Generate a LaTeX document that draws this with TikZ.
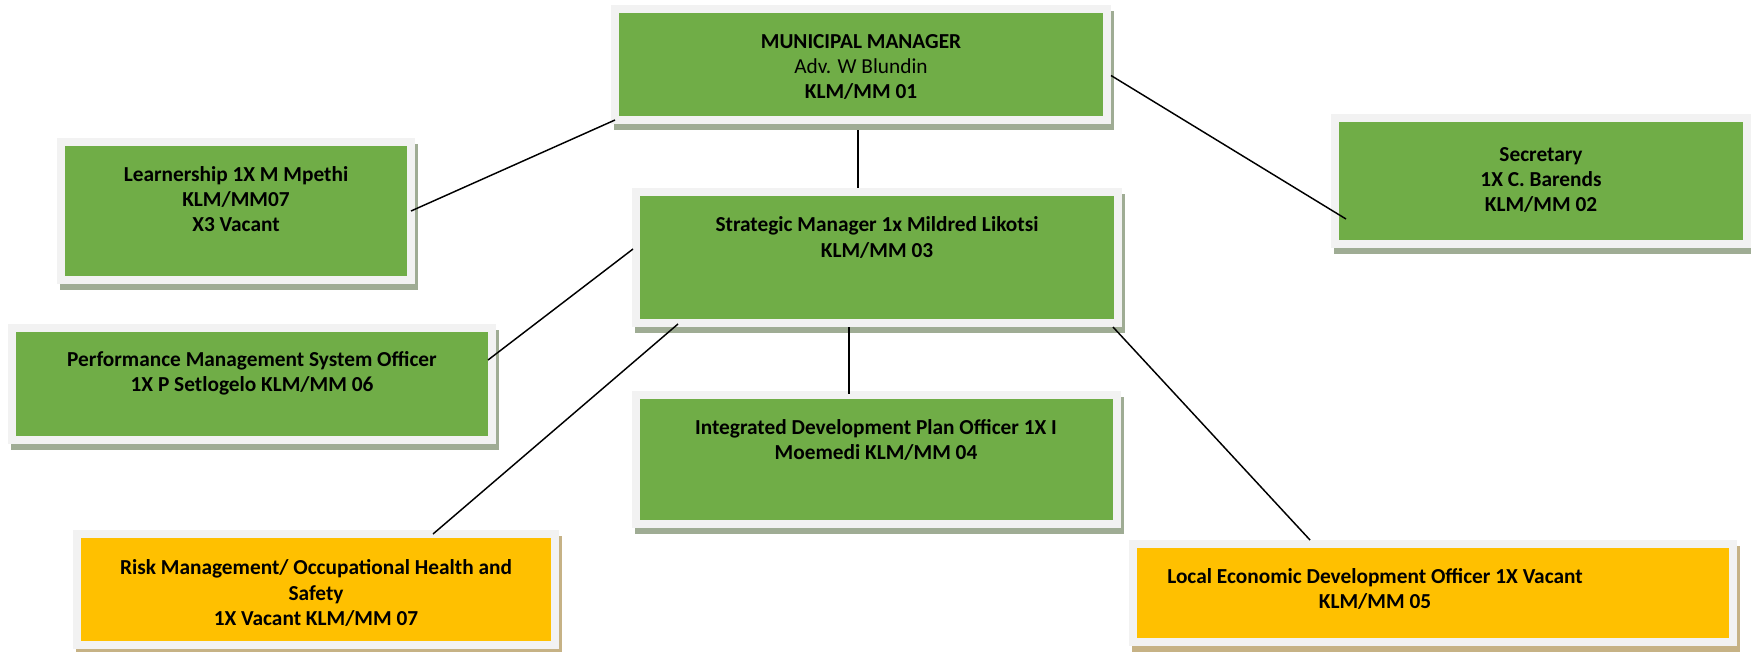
\documentclass[tikz,border=0pt]{standalone}
\usepackage{fontspec}
\setmainfont{Carlito}
\usetikzlibrary{calc}
\definecolor{boxgreen}{HTML}{70AD47}
\definecolor{boxyellow}{HTML}{FFC000}
\definecolor{boxframe}{HTML}{F2F2F2}
\definecolor{shgreen}{HTML}{9FAC94}
\definecolor{shyellow}{HTML}{C6B285}

\tikzset{every picture/.style={line width=0.75pt}}
\tikzset{
  postbox/.style={draw=boxframe, line width=6pt, inner sep=0pt, outer sep=0pt},
  greenbox/.style={postbox, fill=boxgreen},
  yellowbox/.style={postbox, fill=boxyellow},
  posttext/.style={font=\fontsize{16}{19}\selectfont\bfseries, align=center, inner sep=0pt},
  link/.style={draw=black, line width=1.1pt},
}

\begin{document}
\begin{tikzpicture}[x=0.75pt,y=0.75pt,yscale=-1,xscale=1]
    \useasboundingbox (0,0) rectangle (1751,651);
    % Text Node
    \fill[shgreen] (614,11) rectangle (1114,130);
    \node[greenbox, minimum width=369pt, minimum height=83.25pt] (mm) at (861,64.5) {};
    \node[posttext] (mmtext) at (861,67) {MUNICIPAL MANAGER\\{\mdseries Adv. W Blundin}\\KLM/MM 01};
    % Text Node
    \fill[shgreen] (60,144) rectangle (418,290);
    \node[greenbox, minimum width=262.5pt, minimum height=103.5pt] (lrn) at (236,211) {};
    \node[posttext] (lrntext) at (236,199) {Learnership 1X M Mpethi\\KLM/MM07\\X3 Vacant};
    % Text Node
    \fill[shgreen] (1334,120) rectangle (1754,254);
    \node[greenbox, minimum width=309pt, minimum height=94.5pt] (sec) at (1541,181) {};
    \node[posttext] (sectext) at (1541,180) {Secretary\\1X C. Barends\\KLM/MM 02};
    % Text Node
    \fill[shgreen] (635,194) rectangle (1125,333);
    \node[greenbox, minimum width=361.5pt, minimum height=98.25pt] (str) at (877,257.5) {};
    \node[posttext] (strtext) at (877,237.5) {Strategic Manager 1x Mildred Likotsi\\KLM/MM 03};
    % Text Node
    \fill[shgreen] (11,330) rectangle (499,450);
    \node[greenbox, minimum width=360pt, minimum height=84pt] (pms) at (252,384) {};
    \node[posttext] (pmstext) at (252,373.5) {Performance Management System Officer\\1X P Setlogelo KLM/MM 06};
    % Text Node
    \fill[shgreen] (635,397) rectangle (1124,534);
    \node[greenbox, minimum width=360.75pt, minimum height=96.75pt] (idp) at (876.5,459.5) {};
    \node[posttext] (idptext) at (876,440) {Integrated Development Plan Officer 1X I\\Moemedi KLM/MM 04};
    % Text Node
    \fill[shyellow] (76,536) rectangle (562,655);
    \node[yellowbox, minimum width=358.5pt, minimum height=83.25pt] (risk) at (316,589.5) {};
    \node[posttext] (risktext) at (316,593) {Risk Management/ Occupational Health and\\Safety\\1X Vacant KLM/MM 07};
    % Text Node
    \fill[shyellow] (1132,546) rectangle (1740,652);
    \node[yellowbox, minimum width=450pt, minimum height=73.5pt] (led) at (1433,593) {};
    \node[posttext] (ledtext) at (1375,589) {Local Economic Development Officer 1X Vacant\\KLM/MM 05};
    % Connection
    \draw[link] (mm.south west) -- (lrn.east);
    % Connection
    \draw[link] ($(mm.east)+(4,11)$) -- ($(sec.west)+(11,38)$);
    % Connection
    \draw[link] ($(mm.south)+(-3,10)$) -- ($(str.north)+(-19,-4)$);
    % Connection
    \draw[link] ($(str.west)+(-3,-8.5)$) -- ($(pms.east)+(-4,-24)$);
    % Connection
    \draw[link] ($(str.south west)+(42,1)$) -- ($(risk.north)+(117,0)$);
    % Connection
    \draw[link] ($(str.south)+(-28,4)$) -- ($(idp.north)+(-27.5,-1)$);
    % Connection
    \draw[link] ($(str.south east)+(-5,4)$) -- ($(led.north)+(-123,-4)$);
\end{tikzpicture}
\end{document}
